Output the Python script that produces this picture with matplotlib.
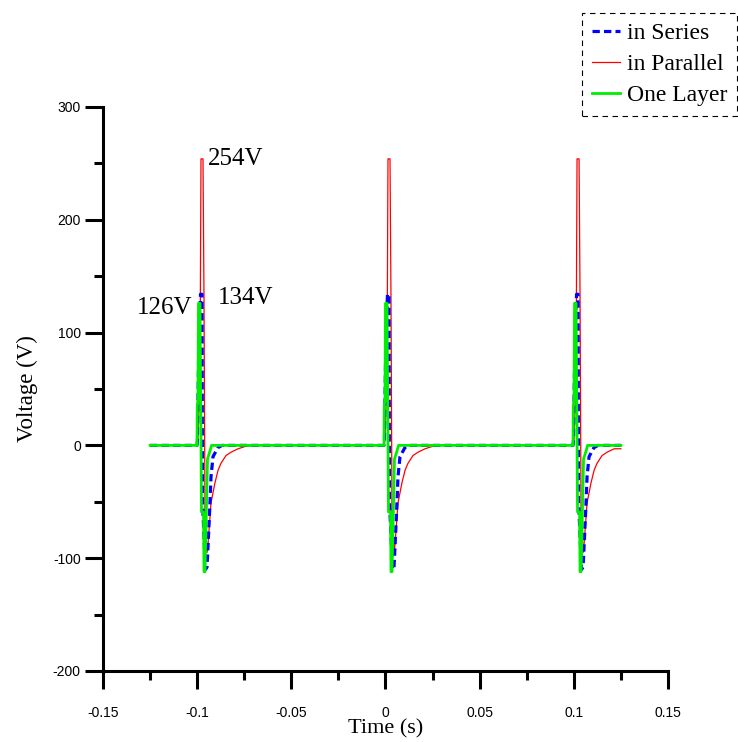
import numpy as np
import matplotlib.pyplot as plt
from matplotlib.ticker import MultipleLocator

# pulse onsets (s) and record limits
pulse_starts = [-0.1001, -0.0008, 0.0996]
t_first, t_last = -0.125, 0.125

# one pulse per series, offsets in ms after onset, voltage in V
series_ms = [0.0, 0.27, 0.53, 1.06, 1.86, 2.65, 2.92, 4.51, 5.31, 5.84, 6.90, 7.43, 8.50, 11.1, 13.3]
series_v = [0, 5, 40, 100, 134, 134, -50, -110, -108, -90, -51, -28, -10, -2, 0]

parallel_ms = [0.0, 0.53, 1.59, 2.12, 3.19, 3.72, 4.25, 5.31, 5.84, 7.43, 9.56, 11.2, 12.7,
               15.4, 18.1, 21.8, 25.5, 29.2]
parallel_v = [0, 5, 60, 254, 254, 130, -60, -95, -88, -51, -33, -22, -16, -9, -6, -3, -1, 0]

layer_ms = [0.0, 0.16, 0.53, 0.80, 1.59, 2.39, 3.45, 3.72, 4.25, 5.58, 6.90, 7.70]
layer_v = [0, 36, 40, 126, 126, -59, -59, -112, -112, -12, -5, 0]

labels = ['in Series', 'in Parallel', 'One Layer']


def build(offs_ms, vals):
    t = [t_first]
    v = [0]
    for t0 in pulse_starts:
        for o, y in zip(offs_ms, vals):
            if t0 + o / 1000 < t_last:
                t.append(t0 + o / 1000)
                v.append(y)
    t.append(t_last)
    v.append(v[-1])
    return t, v


plt.rcParams['font.family'] = 'Liberation Sans'
fig = plt.figure(figsize=(7.38, 7.42), dpi=100)
ax = fig.add_axes([0.1396, 0.0957, 0.7655, 0.7601])

t, v = build(parallel_ms, parallel_v)
h_par, = ax.plot(t, v, color='#ff0000', lw=0.9, zorder=2)
t, v = build(series_ms, series_v)
h_ser, = ax.plot(t, v, color='#0000ff', lw=2.3, dashes=(2.3, 1.3), zorder=3)
t, v = build(layer_ms, layer_v)
h_lay, = ax.plot(t, v, color='#00ee00', lw=2.0, zorder=4)

ax.set_xlim(-0.15, 0.15)
ax.set_ylim(-200, 300)
ax.xaxis.set_minor_locator(MultipleLocator(0.025))
ax.yaxis.set_minor_locator(MultipleLocator(50))
ax.set_xticks(np.arange(-0.15, 0.151, 0.05))
ax.set_xticklabels(['-0.15', '-0.1', '-0.05', '0', '0.05', '0.1', '0.15'])
ax.set_yticks([-200, -100, 0, 100, 200, 300])
ax.set_yticklabels(['-200', '-100', '0', '100', '200', '300'])

for s in ['top', 'right']:
    ax.spines[s].set_visible(False)
for s in ['left', 'bottom']:
    ax.spines[s].set_linewidth(2.2)
ax.tick_params(which='major', direction='out', length=13, width=2.2, labelsize=10)
ax.tick_params(which='minor', direction='out', length=6.5, width=2.2)
ax.tick_params(axis='y', which='major', pad=3)
ax.tick_params(axis='x', which='major', pad=12)

serif = 'Liberation Serif'
ax.set_xlabel('Time (s)', family=serif, fontsize=16, labelpad=0)
ax.set_ylabel('Voltage (V)', family=serif, fontsize=16.5, labelpad=11)

ax.text(-0.0942, 254, '254V', family=serif, fontsize=18, ha='left', va='center')
ax.text(-0.0889, 131, '134V', family=serif, fontsize=18, ha='left', va='center')
ax.text(-0.1027, 122, '126V', family=serif, fontsize=18, ha='right', va='center')

leg = fig.legend([h_ser, h_par, h_lay], labels, loc='upper right',
                 bbox_to_anchor=(0.999, 0.983), borderaxespad=0,
                 prop={'family': serif, 'size': 17}, handlelength=1.2,
                 handletextpad=0.3, labelspacing=0.4, borderpad=0.42,
                 fancybox=False, framealpha=1)
leg.get_frame().set_edgecolor('black')
leg.get_frame().set_linestyle((0, (5, 4)))
leg.get_frame().set_linewidth(0.8)

fig.savefig('out.png', dpi=100)
